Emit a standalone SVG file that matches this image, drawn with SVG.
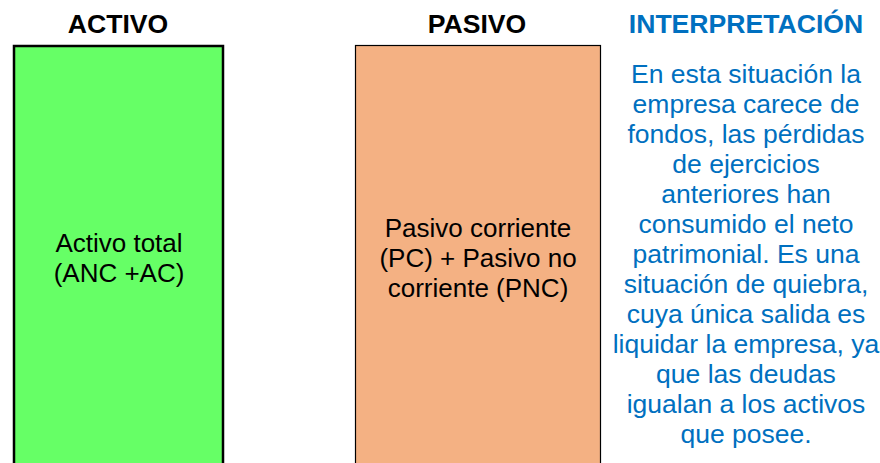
<svg xmlns="http://www.w3.org/2000/svg" width="880" height="463" viewBox="0 0 880 463">
<style>
text{font-family:"Liberation Sans",Arial,sans-serif;text-anchor:middle}
.h{font-weight:bold;font-size:26.6px;fill:#000}
.hb{font-weight:bold;font-size:26.6px;fill:#0070C0}
.t{font-size:26px;fill:#000}
.b{font-size:26.5px;fill:#0070C0}
</style>
<rect width="880" height="463" fill="#fff"/>
<g id="activo">
<text class="h" x="118" y="33">ACTIVO</text>
<rect x="14" y="46" width="209" height="430" fill="#66FF66" stroke="#000" stroke-width="2.5"/>
<text class="t" x="119" y="252">Activo total</text>
<text class="t" x="119" y="282">(ANC +AC)</text>
</g>
<g id="pasivo">
<text class="h" x="477" y="33">PASIVO</text>
<rect x="355.5" y="45.5" width="245" height="430" fill="#F4B183" stroke="#000" stroke-width="1.2"/>
<text class="t" x="478" y="237">Pasivo corriente</text>
<text class="t" x="478" y="267">(PC) + Pasivo no</text>
<text class="t" x="478" y="297">corriente (PNC)</text>
</g>
<g id="interpretacion">
<text class="hb" x="746" y="33">INTERPRETACIÓN</text>
<text class="b" x="746" y="83">En esta situación la</text>
<text class="b" x="746" y="113">empresa carece de</text>
<text class="b" x="746" y="143">fondos, las pérdidas</text>
<text class="b" x="746" y="173">de ejercicios</text>
<text class="b" x="746" y="203">anteriores han</text>
<text class="b" x="746" y="233">consumido el neto</text>
<text class="b" x="746" y="263">patrimonial. Es una</text>
<text class="b" x="746" y="293">situación de quiebra,</text>
<text class="b" x="746" y="323">cuya única salida es</text>
<text class="b" x="746" y="353">liquidar la empresa, ya</text>
<text class="b" x="746" y="383">que las deudas</text>
<text class="b" x="746" y="413">igualan a los activos</text>
<text class="b" x="746" y="443">que posee.</text>
</g>
</svg>
